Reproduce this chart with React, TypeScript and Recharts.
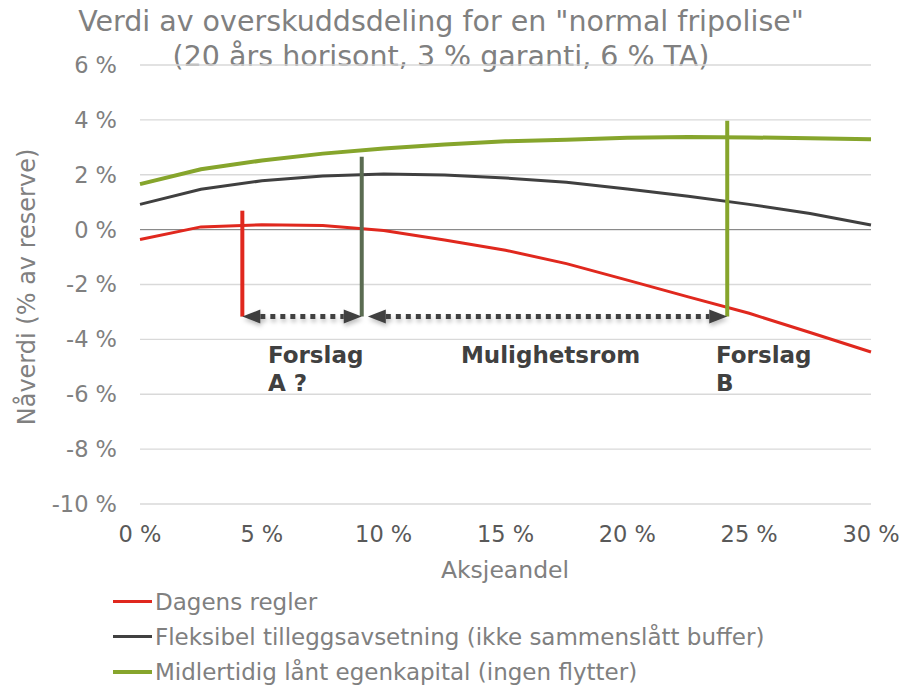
import {
    LineChart,
    Line,
    XAxis,
    YAxis,
    CartesianGrid,
    ReferenceLine,
    ReferenceDot,
} from "recharts";

// aksjeandel (%)
const aksjeandel = [0, 2.5, 5, 7.5, 10, 12.5, 15, 17.5, 20, 22.5, 25, 27.5, 30];

// nåverdi (% av reserve)
const dagensRegler = [-0.36, 0.1, 0.18, 0.15, -0.03, -0.38, -0.75, -1.24, -1.84, -2.45, -3.05, -3.75, -4.46];
const fleksibel = [0.92, 1.47, 1.78, 1.95, 2.03, 1.99, 1.88, 1.73, 1.48, 1.22, 0.92, 0.59, 0.17];
const midlertidig = [1.66, 2.2, 2.52, 2.77, 2.96, 3.1, 3.22, 3.28, 3.35, 3.38, 3.36, 3.33, 3.29];

const xTicks = [0, 5, 10, 15, 20, 25, 30];
const yTicks = [-10, -8, -6, -4, -2, 0, 2, 4, 6];

const series = [
    { key: "dagens", name: "Dagens regler", values: dagensRegler, color: "#e0281e", width: 3 },
    { key: "fleksibel", name: "Fleksibel tilleggsavsetning (ikke sammenslått buffer)", values: fleksibel, color: "#404040", width: 3 },
    { key: "midlertidig", name: "Midlertidig lånt egenkapital (ingen flytter)", values: midlertidig, color: "#86a52c", width: 4 },
];

// forslag-markeringer
const markers = [
    { x: 4.2, top: 0.69, bottom: -3.17, color: "#e0281e" },
    { x: 9.1, top: 2.66, bottom: -3.17, color: "#5b6c52" },
    { x: 24.1, top: 3.97, bottom: -3.17, color: "#86a52c" },
];

const arrows = [
    { from: 4.2, to: 9.1, y: -3.17 },
    { from: 9.35, to: 24.1, y: -3.17 },
];

const annotations = [
    { x: 5.25, y: -4.85, lines: ["Forslag", "A ?"] },
    { x: 13.17, y: -4.85, lines: ["Mulighetsrom"] },
    { x: 23.64, y: -4.85, lines: ["Forslag", "B"] },
];

const data = aksjeandel.map((x, i) => {
    const row: any = { x };
    series.forEach((s) => {
        row[s.key] = s.values[i];
    });
    return row;
});

const FONT = '"DejaVu Sans", Verdana, sans-serif';

const ArrowShape = (props: any) => {
    const { x1, y1, x2 } = props;
    const head = 18;
    const half = 7;
    return (
        <g filter="url(#arrowShadow)">
            <line
                x1={x1 + head}
                y1={y1}
                x2={x2 - head}
                y2={y1}
                stroke="#404040"
                strokeWidth={5}
                strokeDasharray="5 5"
            />
            <polygon
                points={`${x1},${y1} ${x1 + head},${y1 - half} ${x1 + head},${y1 + half}`}
                fill="#404040"
            />
            <polygon
                points={`${x2},${y1} ${x2 - head},${y1 - half} ${x2 - head},${y1 + half}`}
                fill="#404040"
            />
        </g>
    );
};

const App = () => {
    return (
        <div
            style={{
                position: "absolute",
                left: 0,
                top: 0,
                width: 904,
                height: 691,
                background: "#ffffff",
                fontFamily: FONT,
            }}
        >
            {/* Title */}
            <div
                style={{
                    position: "absolute",
                    left: 0,
                    top: 4,
                    width: 882,
                    textAlign: "center",
                    fontSize: 28.5,
                    lineHeight: "35px",
                    color: "#808080",
                    whiteSpace: "nowrap",
                }}
            >
                Verdi av overskuddsdeling for en "normal fripolise"
                <br />
                (20 års horisont, 3 % garanti, 6 % TA)
            </div>

            <LineChart
                width={904}
                height={691}
                data={data}
                margin={{ top: 65, right: 33, left: 60, bottom: 147 }}
                style={{ position: "absolute", left: 0, top: 0 }}
            >
                <defs>
                    <filter id="arrowShadow" x="-10%" y="-100%" width="120%" height="300%">
                        <feDropShadow dx="1" dy="3" stdDeviation="2" floodColor="#000" floodOpacity="0.25" />
                    </filter>
                </defs>

                <CartesianGrid vertical={false} stroke="#d9d9d9" strokeWidth={1.3} />

                <XAxis
                    type="number"
                    dataKey="x"
                    domain={[0, 30]}
                    ticks={xTicks}
                    tickFormatter={(v) => `${v} %`}
                    axisLine={false}
                    tickLine={false}
                    tickSize={0}
                    tickMargin={22}
                    height={40}
                    interval={0}
                    tick={{ fill: "#595959", fontSize: 22.5, fontFamily: FONT }}
                />
                <YAxis
                    type="number"
                    domain={[-10, 6]}
                    ticks={yTicks}
                    tickFormatter={(v) => `${v} %`}
                    axisLine={false}
                    tickLine={false}
                    tickSize={0}
                    tickMargin={23}
                    width={80}
                    interval={0}
                    tick={{ fill: "#808080", fontSize: 22.5, fontFamily: FONT }}
                />

                <ReferenceLine y={0} stroke="#7f7f7f" strokeWidth={1} />

                {series.map((s) => (
                    <Line
                        key={s.key}
                        type="linear"
                        dataKey={s.key}
                        name={s.name}
                        stroke={s.color}
                        strokeWidth={s.width}
                        dot={false}
                        activeDot={false}
                        isAnimationActive={false}
                    />
                ))}

                {markers.map((m, i) => (
                    <ReferenceLine
                        key={`m${i}`}
                        segment={[
                            { x: m.x, y: m.top },
                            { x: m.x, y: m.bottom },
                        ]}
                        stroke={m.color}
                        strokeWidth={4}
                    />
                ))}

                {arrows.map((a, i) => (
                    <ReferenceLine
                        key={`a${i}`}
                        segment={[
                            { x: a.from, y: a.y },
                            { x: a.to, y: a.y },
                        ]}
                        shape={<ArrowShape />}
                    />
                ))}

                {annotations.map((a, i) => (
                    <ReferenceDot
                        key={`t${i}`}
                        x={a.x}
                        y={a.y}
                        r={0}
                        shape={(p: any) => (
                            <text
                                x={p.cx}
                                y={p.cy}
                                fill="#404040"
                                fontSize={23}
                                fontWeight="bold"
                                fontFamily={FONT}
                            >
                                {a.lines.map((l, j) => (
                                    <tspan key={j} x={p.cx} dy={j === 0 ? 0 : 28}>
                                        {l}
                                    </tspan>
                                ))}
                            </text>
                        )}
                    />
                ))}
            </LineChart>

            {/* Y axis label */}
            <div
                style={{
                    position: "absolute",
                    left: 27,
                    top: 287,
                    transform: "translate(-50%, -50%) rotate(-90deg)",
                    whiteSpace: "nowrap",
                    fontSize: 24,
                    color: "#808080",
                }}
            >
                Nåverdi (% av reserve)
            </div>

            {/* X axis label */}
            <div
                style={{
                    position: "absolute",
                    left: 505,
                    top: 570,
                    transform: "translate(-50%, -50%)",
                    whiteSpace: "nowrap",
                    fontSize: 23.5,
                    color: "#808080",
                }}
            >
                Aksjeandel
            </div>

            {/* Legend */}
            <div style={{ position: "absolute", left: 113, top: 584 }}>
                {series.map((s) => (
                    <div
                        key={s.key}
                        style={{
                            display: "flex",
                            alignItems: "center",
                            height: 35,
                            fontSize: 23,
                            color: "#808080",
                            whiteSpace: "nowrap",
                        }}
                    >
                        <span
                            style={{
                                display: "inline-block",
                                width: 39,
                                height: s.width,
                                background: s.color,
                                marginRight: 3,
                            }}
                        />
                        {s.name}
                    </div>
                ))}
            </div>
        </div>
    );
};

export default App;
